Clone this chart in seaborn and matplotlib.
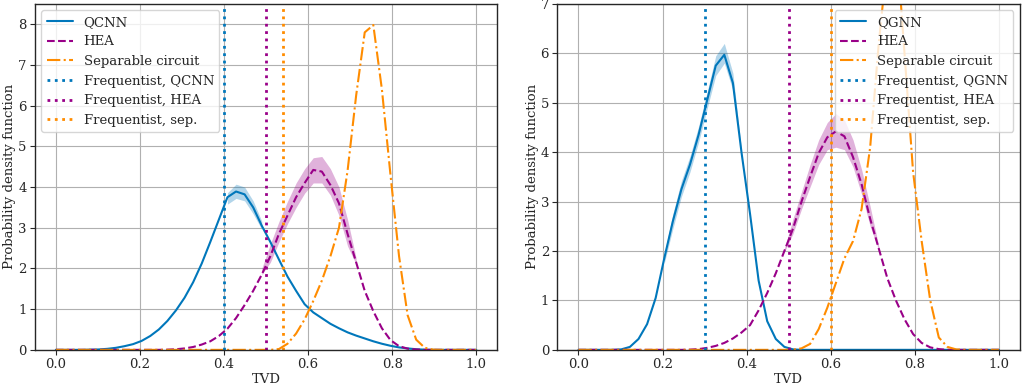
import numpy as np
import matplotlib
matplotlib.use("Agg")
import matplotlib.pyplot as plt
import seaborn as sns

# ---------- Data ----------
# densities evaluated on a 50-point TVD grid
tvd = np.linspace(0, 1, 50)

# left panel
qcnn_pdf = [0, 0, 0, 0, 0.005, 0.01, 0.025, 0.05, 0.09, 0.14,
            0.22, 0.34, 0.50, 0.71, 0.97, 1.28, 1.66, 2.12, 2.65, 3.20,
            3.75, 3.89, 3.82, 3.50, 3.05, 2.65, 2.22, 1.80, 1.45, 1.12,
            0.92, 0.78, 0.64, 0.53, 0.43, 0.35, 0.28, 0.21, 0.15, 0.10,
            0.06, 0.035, 0.015, 0.005, 0, 0, 0, 0, 0, 0]
hea_left_pdf = [0, 0, 0, 0, 0, 0, 0, 0, 0, 0,
                0, 0, 0, 0.005, 0.015, 0.035, 0.07, 0.13, 0.21, 0.34,
                0.52, 0.78, 1.10, 1.45, 1.85, 2.30, 2.85, 3.30, 3.75, 4.10,
                4.42, 4.38, 4.05, 3.60, 2.85, 2.15, 1.45, 0.95, 0.53, 0.24,
                0.09, 0.03, 0.01, 0, 0, 0, 0, 0, 0, 0]
sep_left_pdf = [0, 0, 0, 0, 0, 0, 0, 0, 0, 0,
                0, 0, 0, 0, 0, 0, 0, 0, 0, 0,
                0, 0, 0, 0, 0, 0, 0.02, 0.15, 0.40, 0.75,
                1.20, 1.70, 2.30, 3.00, 4.40, 6.25, 7.80, 7.98, 6.40, 4.30,
                2.30, 0.85, 0.25, 0.05, 0.005, 0, 0, 0, 0, 0]

# credible bands (index range on the grid, lower, upper)
qcnn_band_idx = (20, 25)
qcnn_band_lo = [3.58, 3.72, 3.66, 3.34, 2.96]
qcnn_band_hi = [3.86, 4.07, 4.00, 3.66, 3.16]
hea_left_band_idx = (24, 36)
hea_left_band_lo = [1.85, 2.15, 2.65, 3.10, 3.50, 3.85, 4.10, 4.10, 3.80, 3.30, 2.55, 2.10]
hea_left_band_hi = [2.00, 2.60, 3.15, 3.65, 4.10, 4.45, 4.72, 4.75, 4.45, 4.00, 3.20, 2.25]

freq_left = {"QCNN": 0.40, "HEA": 0.50, "sep.": 0.54}

# right panel
qgnn_pdf = [0, 0, 0, 0, 0, 0.01, 0.06, 0.22, 0.52, 1.05,
            1.85, 2.60, 3.25, 3.75, 4.35, 5.05, 5.75, 5.97, 5.40, 4.00,
            2.75, 1.40, 0.58, 0.22, 0.06, 0.01, 0, 0, 0, 0,
            0, 0, 0, 0, 0, 0, 0, 0, 0, 0,
            0, 0, 0, 0, 0, 0, 0, 0, 0, 0]
hea_right_pdf = [0, 0, 0, 0, 0, 0, 0, 0, 0, 0,
                 0, 0, 0, 0.005, 0.015, 0.04, 0.08, 0.14, 0.23, 0.35,
                 0.50, 0.80, 1.15, 1.55, 2.00, 2.45, 3.00, 3.50, 3.98, 4.30,
                 4.42, 4.32, 3.90, 3.35, 2.65, 2.05, 1.45, 1.00, 0.62, 0.32,
                 0.14, 0.05, 0.015, 0, 0, 0, 0, 0, 0, 0]
sep_right_pdf = [0, 0, 0, 0, 0, 0, 0, 0, 0, 0,
                 0, 0, 0, 0, 0, 0, 0, 0, 0, 0,
                 0, 0, 0, 0, 0, 0.005, 0.03, 0.12, 0.42, 0.85,
                 1.35, 1.85, 2.20, 2.85, 4.10, 6.20, 7.90, 8.40, 6.00, 3.60,
                 2.20, 1.00, 0.25, 0.06, 0.01, 0, 0, 0, 0, 0]

qgnn_band_idx = (10, 20)
qgnn_band_lo = [1.75, 2.45, 3.10, 3.60, 4.20, 4.88, 5.55, 5.80, 5.25, 3.95]
qgnn_band_hi = [1.95, 2.75, 3.42, 3.92, 4.52, 5.22, 5.95, 6.20, 5.60, 4.05]
hea_right_band_idx = (24, 36)
hea_right_band_lo = [1.98, 2.35, 2.85, 3.30, 3.75, 4.05, 4.10, 4.05, 3.70, 3.15, 2.50, 2.02]
hea_right_band_hi = [2.05, 2.65, 3.20, 3.75, 4.25, 4.60, 4.78, 4.65, 4.25, 3.65, 2.90, 2.10]

freq_right = {"QGNN": 0.30, "HEA": 0.50, "sep.": 0.60}

# ---------- Style ----------
BLUE = "#0077BB"
PURPLE = "#990088"
ORANGE = "#FF8C00"

sns.set_style("ticks")
plt.rcParams["font.family"] = ["DejaVu Serif"]
plt.rcParams["font.size"] = 9.5
plt.rcParams["axes.linewidth"] = 1.0
plt.rcParams["xtick.major.pad"] = 2.5
plt.rcParams["ytick.major.pad"] = 2.5
plt.rcParams["axes.labelpad"] = 1.5


def draw_panel(ax, model_name, model_pdf, model_band, hea_pdf, hea_band, sep_pdf, freq, legend_loc):
    sns.lineplot(x=tvd, y=model_pdf, ax=ax, color=BLUE, linewidth=1.5, label=model_name)
    sns.lineplot(x=tvd, y=hea_pdf, ax=ax, color=PURPLE, linewidth=1.5, linestyle="--", label="HEA")
    sns.lineplot(x=tvd, y=sep_pdf, ax=ax, color=ORANGE, linewidth=1.5, linestyle="-.",
                 label="Separable circuit")

    for (i0, i1), lo, hi, col in [model_band, hea_band]:
        ax.fill_between(tvd[i0:i1], lo, hi, color=col, alpha=0.3, linewidth=0)

    ax.axvline(freq[model_name], color=BLUE, linestyle=":", linewidth=2,
               label=f"Frequentist, {model_name}")
    ax.axvline(freq["HEA"], color=PURPLE, linestyle=":", linewidth=2, label="Frequentist, HEA")
    ax.axvline(freq["sep."], color=ORANGE, linestyle=":", linewidth=2, label="Frequentist, sep.")

    ax.grid(True, color="#b0b0b0", linewidth=0.8)
    ax.set_xlim(-0.05, 1.05)
    ax.set_xticks(np.arange(0, 1.01, 0.2))
    ax.set_xlabel("TVD")
    ax.set_ylabel("Probability density function")
    ax.legend(loc=legend_loc, framealpha=0.8)


fig, (ax1, ax2) = plt.subplots(1, 2, figsize=(10.24, 3.87), dpi=100)
fig.subplots_adjust(left=0.034, right=0.996, bottom=0.096, top=0.99, wspace=0.13)

draw_panel(ax1, "QCNN", qcnn_pdf,
           (qcnn_band_idx, qcnn_band_lo, qcnn_band_hi, BLUE),
           hea_left_pdf,
           (hea_left_band_idx, hea_left_band_lo, hea_left_band_hi, PURPLE),
           sep_left_pdf, freq_left, "upper left")
ax1.set_ylim(0, 8.5)

draw_panel(ax2, "QGNN", qgnn_pdf,
           (qgnn_band_idx, qgnn_band_lo, qgnn_band_hi, BLUE),
           hea_right_pdf,
           (hea_right_band_idx, hea_right_band_lo, hea_right_band_hi, PURPLE),
           sep_right_pdf, freq_right, "upper right")
ax2.set_ylim(0, 7)

fig.savefig("out.png", dpi=100)
